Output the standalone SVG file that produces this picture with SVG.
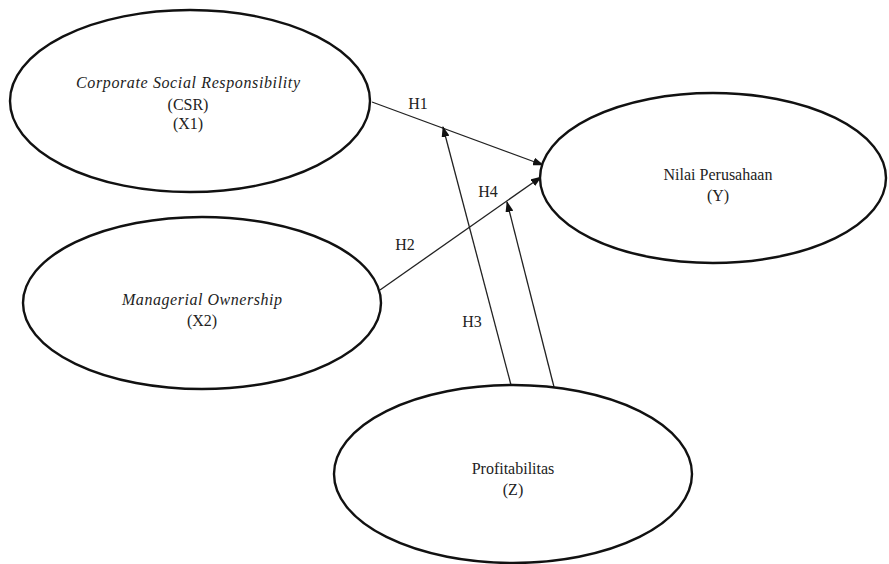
<svg xmlns="http://www.w3.org/2000/svg" width="889" height="564" viewBox="0 0 889 564">
<style>
.node ellipse{fill:#fff;stroke:#111;stroke-width:2.4}
text{font-family:'Liberation Serif','Times New Roman',Times,serif;font-size:16px;fill:#222;text-anchor:middle}
.it{font-style:italic}
.edge{stroke:#222;stroke-width:1.3;fill:none;marker-end:url(#arr)}
</style>
<defs>
<marker id="arr" markerUnits="userSpaceOnUse" markerWidth="11" markerHeight="8" refX="10" refY="4" orient="auto">
<path d="M0,0 L11,4 L0,8 z" fill="#111"/>
</marker>
</defs>
<rect width="889" height="564" fill="#fff"/>
<g id="connectors">
<line class="edge" x1="372" y1="102" x2="543" y2="165"/>
<line class="edge" x1="380" y1="290" x2="541" y2="177"/>
<line class="edge" x1="511" y1="385" x2="443" y2="127"/>
<line class="edge" x1="554" y1="387" x2="507" y2="202"/>
<text x="418" y="109">H1</text>
<text x="405" y="250">H2</text>
<text x="472" y="327">H3</text>
<text x="488" y="197">H4</text>
</g>
<g id="csr" class="node">
<ellipse cx="190" cy="101" rx="180" ry="91"/>
<text class="it" x="188" y="88" textLength="224" lengthAdjust="spacing">Corporate Social Responsibility</text>
<text x="188" y="110">(CSR)</text>
<text x="188" y="129">(X1)</text>
</g>
<g id="mo" class="node">
<ellipse cx="202" cy="303" rx="179" ry="86"/>
<text class="it" x="202" y="305" textLength="160" lengthAdjust="spacing">Managerial Ownership</text>
<text x="202" y="326">(X2)</text>
</g>
<g id="y" class="node">
<ellipse cx="713" cy="178" rx="173" ry="85"/>
<text x="718" y="180">Nilai Perusahaan</text>
<text x="718" y="201">(Y)</text>
</g>
<g id="z" class="node">
<ellipse cx="513" cy="474" rx="179" ry="89"/>
<text x="513" y="474">Profitabilitas</text>
<text x="513" y="495">(Z)</text>
</g>
</svg>
